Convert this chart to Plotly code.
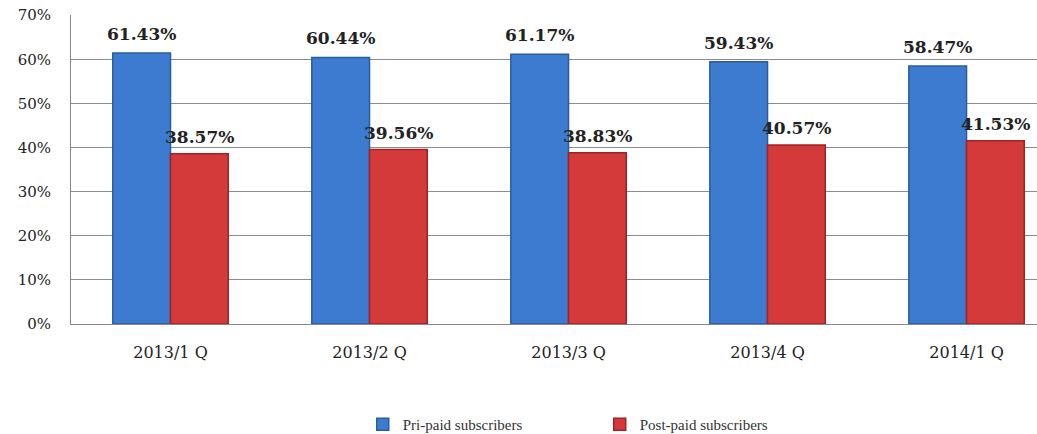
import plotly.graph_objects as go

categories = ["2013/1 Q", "2013/2 Q", "2013/3 Q", "2013/4 Q", "2014/1 Q"]
prepaid = [61.43, 60.44, 61.17, 59.43, 58.47]
postpaid = [38.57, 39.56, 38.83, 40.57, 41.53]
series_names = ["Pri-paid subscribers", "Post-paid subscribers"]
y_ticks = [0, 10, 20, 30, 40, 50, 60, 70]

label_font = dict(family="DejaVu Serif", size=17, color="#222222")

fig = go.Figure()
fig.add_trace(go.Bar(
    x=categories, y=prepaid, name=series_names[0],
    marker=dict(color="#3c7bd0", line=dict(color="#2b5c9e", width=1.5)),
))
fig.add_trace(go.Bar(
    x=categories, y=postpaid, name=series_names[1],
    marker=dict(color="#d43a3a", line=dict(color="#9e2323", width=1.5)),
))

# value labels above each bar (blue bar left of category, red bar right)
half_bar_px = 29
for cat, v in zip(categories, prepaid):
    fig.add_annotation(x=cat, y=v, text=f"<b>{v:.2f}%</b>", showarrow=False,
                       xshift=-half_bar_px, yshift=7, yanchor="bottom",
                       font=label_font)
for cat, v in zip(categories, postpaid):
    fig.add_annotation(x=cat, y=v, text=f"<b>{v:.2f}%</b>", showarrow=False,
                       xshift=half_bar_px, yshift=5, yanchor="bottom",
                       font=label_font)

fig.update_layout(
    width=1037, height=434,
    margin=dict(l=71, r=0, t=15, b=110, autoexpand=False),
    paper_bgcolor="white", plot_bgcolor="white",
    barmode="group", bargap=0.42, bargroupgap=0,
    font=dict(family="DejaVu Serif", color="#222222"),
    showlegend=True,
    legend=dict(
        orientation="h", x=0.302, xanchor="left", y=-0.325, yanchor="middle",
        font=dict(family="Liberation Serif", size=15, color="#333333"),
        entrywidth=192, entrywidthmode="pixels",
        itemwidth=30,
    ),
)
fig.update_xaxes(
    range=[-0.5, 4.354], showgrid=False, automargin=False,
    showline=True, linecolor="#888888", linewidth=1,
    tickfont=dict(family="DejaVu Serif", size=16, color="#222222"),
    ticks="", ticklabelstandoff=14,
)
fig.update_yaxes(
    range=[0, 70.05], tickvals=y_ticks, ticktext=[f"{v}%" for v in y_ticks],
    showgrid=True, gridcolor="#8c8c8c", gridwidth=1, automargin=False,
    showline=True, linecolor="#888888", linewidth=1,
    zeroline=False,
    tickfont=dict(family="DejaVu Serif", size=15, color="#222222"),
    ticks="", ticklabelstandoff=16,
)

fig.write_html(
    "out.html",
    config={"displayModeBar": False},
    post_script="document.body.style.margin='0';document.body.style.overflow='hidden';",
)
